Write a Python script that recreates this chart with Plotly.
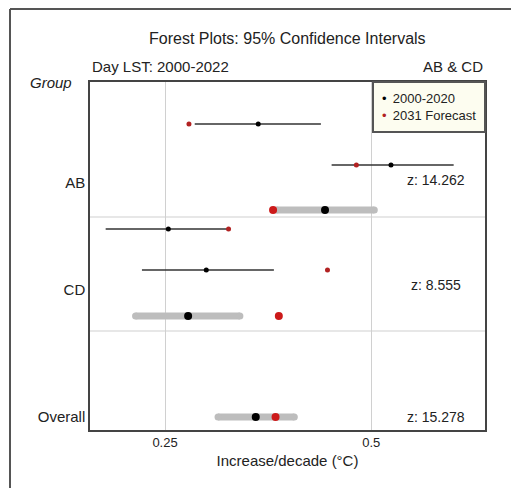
import plotly.graph_objects as go

# ---- data ----
groups = ["AB", "CD", "Overall"]
z_labels = ["z: 14.262", "z: 8.555", "z: 15.278"]
# rows: AB study 1, AB study 2, AB summary, CD study 1, CD study 2, CD summary, Overall
row_kind = ["study", "study", "summary", "study", "study", "summary", "summary"]
est_2020 = [0.363, 0.524, 0.444, 0.254, 0.300, 0.278, 0.360]
ci_low = [0.286, 0.452, 0.381, 0.178, 0.222, 0.210, 0.310]
ci_high = [0.439, 0.600, 0.508, 0.327, 0.382, 0.345, 0.411]
forecast_2031 = [0.279, 0.482, 0.381, 0.327, 0.447, 0.388, 0.384]
x_ticks = [0.25, 0.5]
x_tick_text = ["0.25", "0.5"]

# ---- layout geometry ----
W, H = 511, 488
L, R, T, B = 90, 26, 82, 58
pw, ph = W - L - R, H - T - B
row_y = [42, 83, 128, 147, 188, 234, 335]
group_label_y = [101, 208, 335]
z_y = [98, 203, 335]
sep_y = [135, 249]
xr = [0.159, 0.638]
px_per_unit = pw / (xr[1] - xr[0])

FONT = "Liberation Sans, Arial, sans-serif"
TXT = "#222222"
RED_SMALL = "#b22222"
RED_BIG = "#cc1a1a"

fig = go.Figure()

for i, kind in enumerate(row_kind):
    y = row_y[i]
    if kind == "study":
        fig.add_trace(go.Scatter(x=[ci_low[i], ci_high[i]], y=[y, y], mode="lines",
                                 line=dict(color="#333333", width=1.3),
                                 showlegend=False, hoverinfo="skip"))
        fig.add_trace(go.Scatter(x=[est_2020[i]], y=[y], mode="markers",
                                 marker=dict(color="black", size=5),
                                 showlegend=False))
        fig.add_trace(go.Scatter(x=[forecast_2031[i]], y=[y], mode="markers",
                                 marker=dict(color=RED_SMALL, size=5),
                                 showlegend=False))
    else:
        cap = 3.5 / px_per_unit
        fig.add_trace(go.Scatter(x=[ci_low[i] + cap, ci_high[i] - cap], y=[y, y],
                                 mode="lines+markers",
                                 line=dict(color="#bdbdbd", width=7),
                                 marker=dict(color="#bdbdbd", size=7),
                                 showlegend=False, hoverinfo="skip"))
        fig.add_trace(go.Scatter(x=[est_2020[i]], y=[y], mode="markers",
                                 marker=dict(color="black", size=8),
                                 showlegend=False))
        fig.add_trace(go.Scatter(x=[forecast_2031[i]], y=[y], mode="markers",
                                 marker=dict(color=RED_BIG, size=8),
                                 showlegend=False))

shapes = []
for sy in sep_y:
    shapes.append(dict(type="line", xref="paper", x0=0, x1=1, yref="y", y0=sy, y1=sy,
                       line=dict(color="#d0d0d0", width=1.2), layer="below"))

def px_x(p):
    return (p - L) / pw

def px_y(p):
    return (H - B - p) / ph

# outer frame (left and top edges)
shapes.append(dict(type="line", xref="paper", yref="paper", x0=px_x(10), x1=px_x(10),
                   y0=px_y(9), y1=px_y(490), line=dict(color="#555555", width=2)))
shapes.append(dict(type="line", xref="paper", yref="paper", x0=px_x(10), x1=px_x(515),
                   y0=px_y(9), y1=px_y(9), line=dict(color="#555555", width=2)))

annotations = []
for zt, zy in zip(z_labels, z_y):
    annotations.append(dict(x=px_x(436), xref="paper", y=zy, yref="y", text=zt,
                            showarrow=False, xanchor="center", yanchor="middle",
                            font=dict(family=FONT, size=14, color=TXT)))

annotations.append(dict(x=px_x(287), y=px_y(38), xref="paper", yref="paper",
                        text="Forest Plots: 95% Confidence Intervals", showarrow=False,
                        xanchor="center", yanchor="middle",
                        font=dict(family=FONT, size=16, color=TXT)))
annotations.append(dict(x=0, y=px_y(66), xref="paper", yref="paper",
                        text="Day LST: 2000-2022", showarrow=False,
                        xanchor="left", yanchor="middle",
                        font=dict(family=FONT, size=15, color=TXT)))
annotations.append(dict(x=1, y=px_y(66), xref="paper", yref="paper",
                        text="AB &amp; CD", showarrow=False,
                        xanchor="right", yanchor="middle",
                        font=dict(family=FONT, size=15, color=TXT)))
annotations.append(dict(x=px_x(74), y=px_y(82), xref="paper", yref="paper",
                        text="<i>Group</i>", showarrow=False,
                        xanchor="right", yanchor="middle",
                        font=dict(family=FONT, size=15, color=TXT)))
# legend box
annotations.append(dict(x=px_x(486), y=px_y(81), xref="paper", yref="paper",
                        text=("<span style='color:black'>•</span>\u2009 2000-2020<br>"
                              "<span style='color:" + RED_SMALL + "'>•</span>\u2009 2031 Forecast"),
                        showarrow=False, xanchor="right", yanchor="top", align="left",
                        bgcolor="#fdfdf0", bordercolor="#555555", borderwidth=2,
                        borderpad=8,
                        font=dict(family=FONT, size=13, color=TXT)))

fig.update_layout(
    width=W, height=H,
    margin=dict(l=L, r=R, t=T, b=B),
    paper_bgcolor="white", plot_bgcolor="white",
    showlegend=False,
    shapes=shapes, annotations=annotations,
    xaxis=dict(range=xr, tickvals=x_ticks, ticktext=x_tick_text,
               showgrid=True, gridcolor="#d0d0d0", gridwidth=1.2,
               zeroline=False, showline=True, mirror=True, linecolor="#444444", linewidth=1.5,
               ticks="", tickfont=dict(family=FONT, size=13, color=TXT),
               title=dict(text="Increase/decade (°C)", standoff=6,
                          font=dict(family=FONT, size=15, color=TXT))),
    yaxis=dict(range=[ph, 0], tickvals=group_label_y, ticktext=groups,
               showgrid=False, zeroline=False, showline=True, mirror=True,
               linecolor="#444444", linewidth=1.5, ticks="",
               tickfont=dict(family=FONT, size=15, color=TXT)),
)

fig.write_html("out.html")
